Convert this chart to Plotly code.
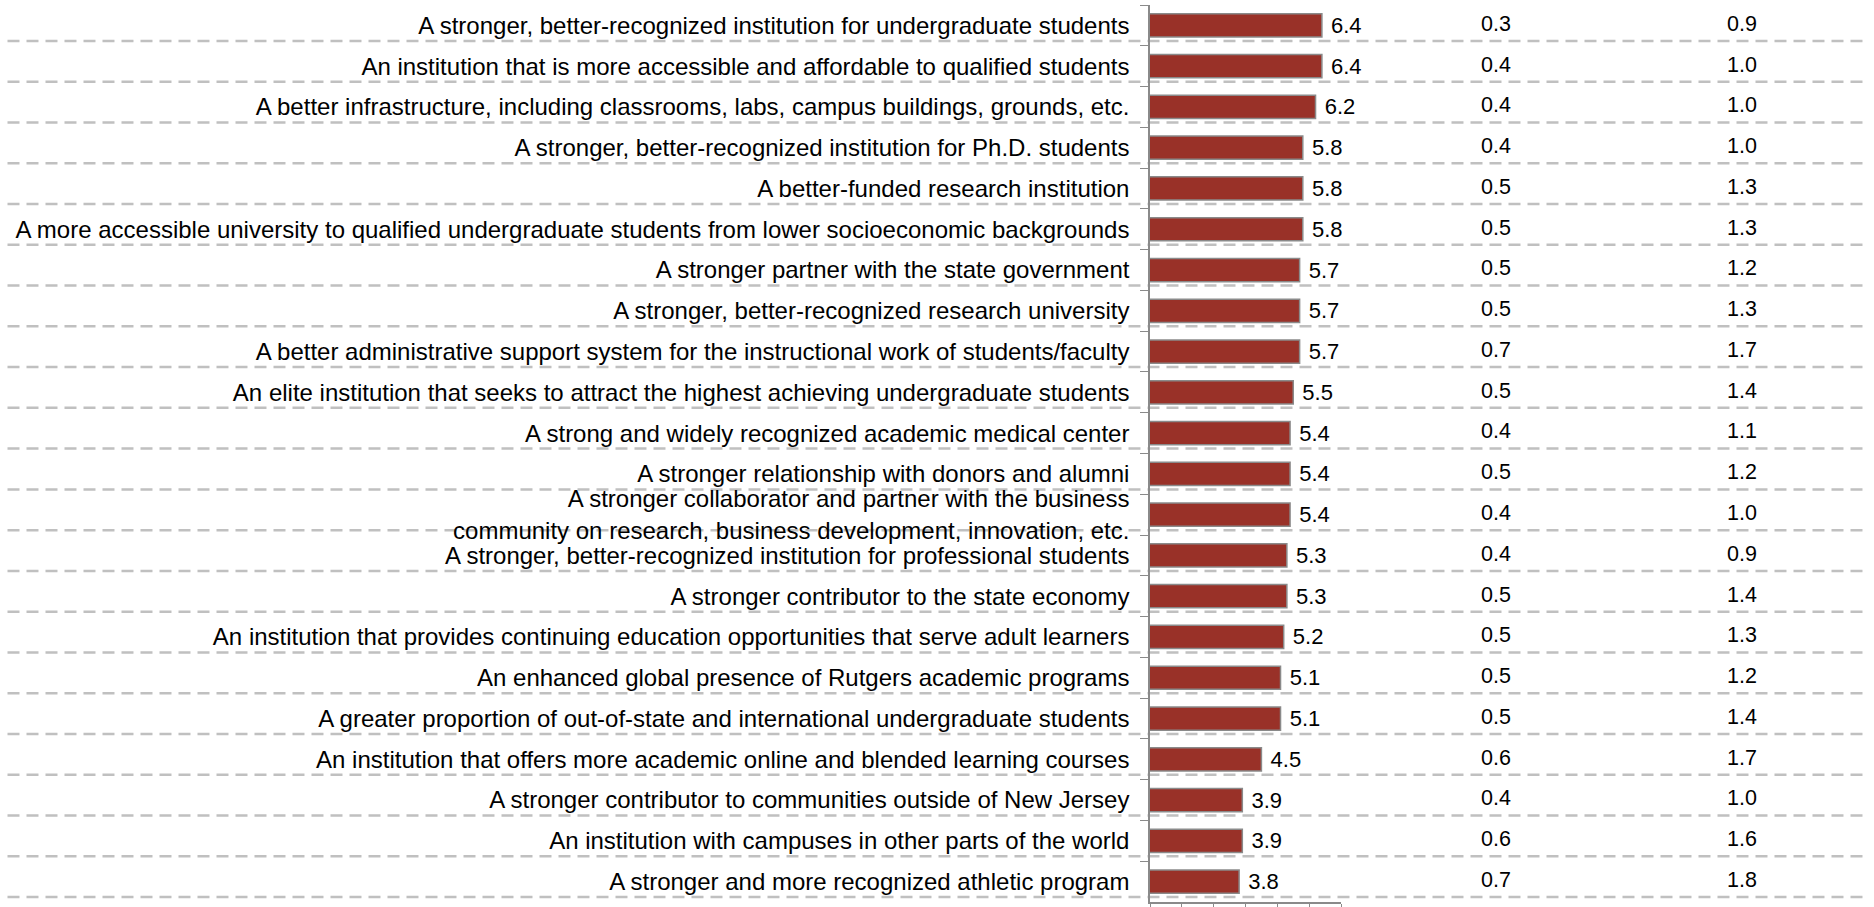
import plotly.graph_objects as go

# survey items, top to bottom
items = [
    "A stronger, better-recognized institution for undergraduate students",
    "An institution that is more accessible and affordable to qualified students",
    "A better infrastructure, including classrooms, labs, campus buildings, grounds, etc.",
    "A stronger, better-recognized institution for Ph.D. students",
    "A better-funded research institution",
    "A more accessible university to qualified undergraduate students from lower socioeconomic backgrounds",
    "A stronger partner with the state government",
    "A stronger, better-recognized research university",
    "A better administrative support system for the instructional work of students/faculty",
    "An elite institution that seeks to attract the highest achieving undergraduate students",
    "A strong and widely recognized academic medical center",
    "A stronger relationship with donors and alumni",
    "A stronger collaborator and partner with the business<br>community on research, business development, innovation, etc.",
    "A stronger, better-recognized institution for professional students",
    "A stronger contributor to the state economy",
    "An institution that provides continuing education opportunities that serve adult learners",
    "An enhanced global presence of Rutgers academic programs",
    "A greater proportion of out-of-state and international undergraduate students",
    "An institution that offers more academic online and blended learning courses",
    "A stronger contributor to communities outside of New Jersey",
    "An institution with campuses in other parts of the world",
    "A stronger and more recognized athletic program",
]
mean_scores = [6.4, 6.4, 6.2, 5.8, 5.8, 5.8, 5.7, 5.7, 5.7, 5.5, 5.4,
               5.4, 5.4, 5.3, 5.3, 5.2, 5.1, 5.1, 4.5, 3.9, 3.9, 3.8]
col_a = [0.3, 0.4, 0.4, 0.4, 0.5, 0.5, 0.5, 0.5, 0.7, 0.5, 0.4,
         0.5, 0.4, 0.4, 0.5, 0.5, 0.5, 0.5, 0.6, 0.4, 0.6, 0.7]
col_b = [0.9, 1.0, 1.0, 1.0, 1.3, 1.3, 1.2, 1.3, 1.7, 1.4, 1.1,
         1.2, 1.0, 0.9, 1.4, 1.3, 1.2, 1.4, 1.7, 1.0, 1.6, 1.8]
scale_ticks = [1, 2, 3, 4, 5, 6, 7]

FONT = "Arial, Liberation Sans, sans-serif"
W, H = 1874, 907
n = len(items)

fig = go.Figure()

fig.add_trace(go.Bar(
    x=mean_scores, y=items, orientation="h",
    marker=dict(color="#993128", line=dict(color="#8a8a8a", width=1.5)),
    text=mean_scores, texttemplate=" %{x:.1f}", textposition="outside",
    constraintext="none",
    textfont=dict(size=22, color="black", family=FONT),
    cliponaxis=False, showlegend=False, hoverinfo="skip",
))

# the two number columns on the right
for name, vals in [("a", col_a), ("b", col_b)]:
    fig.add_trace(go.Scatter(
        x=[name] * len(vals), y=items, mode="text",
        text=[f"{v:.1f}" for v in vals],
        textfont=dict(size=21.5, color="black", family=FONT),
        xaxis="x2", yaxis="y", showlegend=False, hoverinfo="skip",
    ))

# dashed row separators running across the whole page
for i in range(n):
    fig.add_shape(type="line", xref="paper", yref="y",
                  x0=0.004, x1=0.995, y0=i + 0.38, y1=i + 0.38,
                  line=dict(color="#c0c0c0", width=2.5, dash="12px,7px"),
                  layer="below")

fig.update_layout(
    width=W, height=H,
    margin=dict(l=0, r=0, t=5, b=5),
    paper_bgcolor="white", plot_bgcolor="white",
    bargap=0.43,
    font=dict(family=FONT, size=21, color="black"),
    xaxis=dict(domain=[1150 / W, 1341 / W], range=[1, 7],
               tickvals=scale_ticks, showticklabels=False,
               ticks="outside", ticklen=5, tickcolor="#8a8a8a",
               showline=True, linecolor="#8a8a8a", linewidth=1.5,
               showgrid=False, zeroline=False, fixedrange=True),
    xaxis2=dict(domain=[1373 / W, 1865 / W], anchor="y",
                type="category", categoryorder="array", categoryarray=["a", "b"],
                range=[-0.5, 1.5], visible=False, fixedrange=True),
    yaxis=dict(type="category", categoryorder="array", categoryarray=items,
               range=[n - 0.5, -0.5], tickson="boundaries",
               ticks="outside", ticklen=8, tickcolor="#8a8a8a",
               showline=True, linecolor="#8a8a8a", linewidth=1.5,
               showgrid=False, zeroline=False, automargin=False,
               ticklabelstandoff=14,
               tickfont=dict(size=24, family=FONT, color="black"),
               fixedrange=True),
)

# drop the browser's default page margin so the figure sits at 0,0
fig.write_html("out.html", config={"displayModeBar": False},
               post_script="document.body.style.margin = '0px';")
